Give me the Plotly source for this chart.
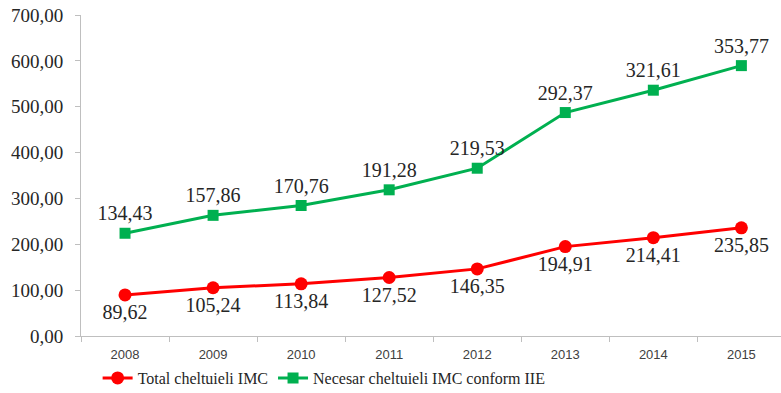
import plotly.graph_objects as go

years = ["2008", "2009", "2010", "2011", "2012", "2013", "2014", "2015"]
total_imc = [89.62, 105.24, 113.84, 127.52, 146.35, 194.91, 214.41, 235.85]
necesar_imc = [134.43, 157.86, 170.76, 191.28, 219.53, 292.37, 321.61, 353.77]
y_ticks = [0, 100, 200, 300, 400, 500, 600, 700]

def fmt(v):
    return f"{v:.2f}".replace(".", ",")

serif = "Liberation Serif, Times New Roman, serif"
sans = "Liberation Sans, Arial, sans-serif"

fig = go.Figure()
fig.add_trace(go.Scatter(
    x=years, y=total_imc, name="Total cheltuieli IMC",
    stackgroup="s", fill="none",
    mode="lines+markers+text",
    line=dict(color="#FF0000", width=3),
    marker=dict(symbol="circle", size=13, color="#FF0000"),
    text=[fmt(v) for v in total_imc], textposition="bottom center",
    textfont=dict(family=serif, size=20, color="#262626"),
))
fig.add_trace(go.Scatter(
    x=years, y=necesar_imc, name="Necesar cheltuieli IMC conform IIE",
    stackgroup="s", fill="none",
    mode="lines+markers+text",
    line=dict(color="#00B050", width=3),
    marker=dict(symbol="square", size=11, color="#00B050"),
    text=[fmt(v) for v in necesar_imc], textposition="top center",
    textfont=dict(family=serif, size=20, color="#262626"),
))

fig.update_layout(
    width=781, height=393,
    margin=dict(l=81, r=0, t=15, b=57, autoexpand=False),
    paper_bgcolor="white", plot_bgcolor="white",
    separators=", ",
    showlegend=True,
    legend=dict(orientation="h", x=0.125, xref="container", y=0.038, yref="container",
                xanchor="left", yanchor="middle",
                font=dict(family=serif, size=16, color="#262626"),
                itemwidth=30, tracegroupgap=0, traceorder="normal"),
    xaxis=dict(
        type="category", showline=True, linecolor="#BFBFBF", linewidth=1,
        showgrid=False, ticks="outside", ticklen=5, tickcolor="#BFBFBF",
        tickson="boundaries", range=[-0.5, 7.45],
        tickfont=dict(family=sans, size=13, color="#404040"),
        ticklabelstandoff=6,
    ),
    yaxis=dict(
        range=[0, 700], tickvals=y_ticks, tickformat=".2f",
        showline=True, linecolor="#BFBFBF", linewidth=1,
        showgrid=False, ticks="outside", ticklen=5, tickcolor="#BFBFBF",
        tickfont=dict(family=serif, size=19, color="#262626"),
        ticklabelstandoff=8,
        zeroline=False,
    ),
)

fig.write_html("out.html")
